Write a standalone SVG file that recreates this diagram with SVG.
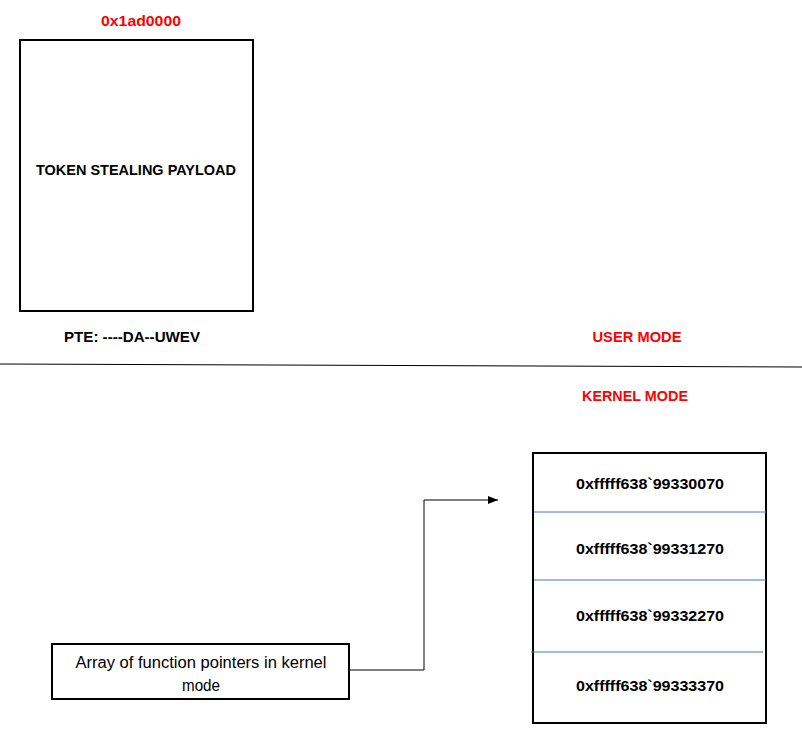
<svg xmlns="http://www.w3.org/2000/svg" width="802" height="749" viewBox="0 0 802 749">
<style>
.b{font-family:"Liberation Sans",Arial,sans-serif;font-weight:bold;font-size:15px;text-anchor:middle}
.r{fill:#ff0000}
.n{font-family:"Liberation Sans",Arial,sans-serif;font-size:16px;text-anchor:middle;fill:#000}
.box{fill:#fff;stroke:#000;stroke-width:2}
.sep{stroke:#4472c4;stroke-width:1}
</style>
<defs>
<marker id="ah" markerWidth="10" markerHeight="8" refX="10" refY="4" orient="auto" markerUnits="userSpaceOnUse">
<path d="M0,0 L10,4 L0,8 Z" fill="#000"/>
</marker>
</defs>
<rect width="802" height="749" fill="#fff"/>
<g id="payload">
<text class="b r" x="141" y="26" textLength="80" lengthAdjust="spacingAndGlyphs">0x1ad0000</text>
<rect class="box" x="20" y="40" width="233" height="271"/>
<text class="b" x="136" y="175" textLength="200" lengthAdjust="spacingAndGlyphs">TOKEN STEALING PAYLOAD</text>
<text class="b" x="132" y="342" textLength="136" lengthAdjust="spacingAndGlyphs">PTE: ----DA--UWEV</text>
</g>
<g id="modes">
<line x1="0" y1="364" x2="802" y2="367" stroke="#000" stroke-width="1"/>
<text class="b r" x="637" y="342" textLength="89" lengthAdjust="spacingAndGlyphs">USER MODE</text>
<text class="b r" x="635" y="401" textLength="106" lengthAdjust="spacingAndGlyphs">KERNEL MODE</text>
</g>
<g id="array">
<rect class="box" x="533" y="453" width="233" height="270"/>
<line class="sep" x1="534" y1="512" x2="766" y2="512"/>
<line class="sep" x1="534" y1="580" x2="766" y2="580"/>
<line class="sep" x1="531" y1="652" x2="763" y2="652"/>
<text class="b" x="650" y="489" textLength="148" lengthAdjust="spacingAndGlyphs">0xfffff638`99330070</text>
<text class="b" x="650" y="554" textLength="148" lengthAdjust="spacingAndGlyphs">0xfffff638`99331270</text>
<text class="b" x="650" y="621" textLength="148" lengthAdjust="spacingAndGlyphs">0xfffff638`99332270</text>
<text class="b" x="650" y="691" textLength="148" lengthAdjust="spacingAndGlyphs">0xfffff638`99333370</text>
</g>
<g id="fptr">
<rect class="box" x="52" y="644" width="297" height="55"/>
<text class="n" x="201" y="668" textLength="251" lengthAdjust="spacingAndGlyphs">Array of function pointers in kernel</text>
<text class="n" x="201" y="691" textLength="38" lengthAdjust="spacingAndGlyphs">mode</text>
</g>
<g id="connectors">
<polyline points="349,670 424,670 424,500 498,500" fill="none" stroke="#000" stroke-width="1" marker-end="url(#ah)"/>
</g>
</svg>
